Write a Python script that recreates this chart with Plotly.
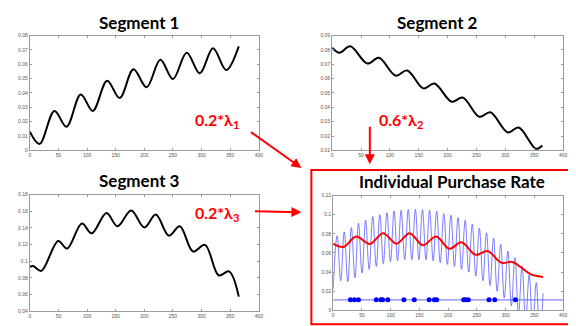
import plotly.graph_objects as go

# ---------------- data ----------------
seg1_x = [0, 17, 43, 64, 89, 110, 135, 157, 181, 204, 228, 250, 274, 297, 320, 343, 365]
seg1_y = [0.013, 0.0045, 0.0275, 0.0165, 0.039, 0.0275, 0.0485, 0.0365, 0.0565, 0.044,
          0.0632, 0.0497, 0.068, 0.0537, 0.0712, 0.056, 0.0725]

seg2_x = [0, 12.6, 31.4, 61, 81, 110, 130, 158, 177, 207, 226, 255, 274, 304, 323, 353, 364]
seg2_y = [0.0816, 0.078, 0.0825, 0.0705, 0.0745, 0.062, 0.0657, 0.0532, 0.0566, 0.0439,
          0.0468, 0.0334, 0.0366, 0.0225, 0.0259, 0.0111, 0.0134]

seg3_x = [0, 5.8, 20, 49.5, 65, 91, 108, 134, 153, 177, 200, 220, 243, 262, 285, 306, 330, 348, 365]
seg3_y = [0.0932, 0.0944, 0.0885, 0.1244, 0.1153, 0.1453, 0.1335, 0.1579, 0.142, 0.161,
          0.1405, 0.156, 0.1307, 0.142, 0.1118, 0.1197, 0.083, 0.088, 0.0577]

rate_x = [0, 18, 40, 64, 87, 110, 133, 156, 179, 202, 223, 248, 269, 292, 312, 327, 344, 355, 365]
rate_y = [0.0697, 0.0663, 0.0773, 0.0694, 0.0807, 0.0697, 0.0807, 0.068, 0.0773, 0.0643,
          0.0711, 0.0581, 0.0619, 0.0499, 0.0506, 0.0448, 0.0376, 0.0359, 0.0349]

blue_x = [0, 6.9, 13.1, 19.3, 25.5, 31.6, 37.9, 44.0, 50.2, 56.4, 62.6, 68.8, 75.0, 81.1, 87.3,
          93.5, 99.7, 105.9, 112.0, 118.2, 124.4, 130.6, 136.8, 143.0, 149.1, 155.3, 161.5,
          167.7, 173.9, 180.0, 186.2, 192.4, 198.6, 204.8, 211.0, 217.2, 223.3, 229.6, 235.7,
          241.9, 248.1, 254.3, 260.5, 266.7, 272.8, 279.0, 285.2, 291.4, 297.6, 303.8, 310.0,
          316.1, 322.4, 328.5, 334.7, 340.9, 347.1, 353.2, 359.5, 365]
blue_y = [0.022, 0.078, 0.031, 0.082, 0.030, 0.0865, 0.034, 0.091, 0.039, 0.0944, 0.043, 0.098,
          0.046, 0.100, 0.049, 0.102, 0.051, 0.1036, 0.052, 0.1046, 0.053, 0.1053, 0.053, 0.1056,
          0.053, 0.1053, 0.053, 0.1046, 0.052, 0.1035, 0.050, 0.101, 0.048, 0.0995, 0.046, 0.097,
          0.043, 0.094, 0.040, 0.090, 0.036, 0.086, 0.031, 0.081, 0.026, 0.0756, 0.020, 0.069,
          0.013, 0.062, 0.005, 0.055, -0.004, 0.0465, -0.012, 0.037, -0.020, 0.029, -0.028, 0.018]

purchase_days = [30, 37, 44, 75, 83, 86, 95, 123, 141, 167, 176, 180, 227, 230, 235, 271, 281, 317]
threshold_level = 0.011
threshold_span = [0, 400]

x_ticks = [0, 50, 100, 150, 200, 250, 300, 350, 400]
y1_ticks = [0, 0.01, 0.02, 0.03, 0.04, 0.05, 0.06, 0.07, 0.08]
y1_text = ["0", "0.01", "0.02", "0.03", "0.04", "0.05", "0.06", "0.07", "0.08"]
y2_ticks = [0.01, 0.02, 0.03, 0.04, 0.05, 0.06, 0.07, 0.08, 0.09]
y2_text = ["0.01", "0.02", "0.03", "0.04", "0.05", "0.06", "0.07", "0.08", "0.09"]
y3_ticks = [0.04, 0.06, 0.08, 0.10, 0.12, 0.14, 0.16, 0.18]
y3_text = ["0.04", "0.06", "0.08", "0.1", "0.12", "0.14", "0.16", "0.18"]
y4_ticks = [0, 0.02, 0.04, 0.06, 0.08, 0.10, 0.12]
y4_text = ["0", "0.02", "0.04", "0.06", "0.08", "0.1", "0.12"]

titles = ["Segment 1", "Segment 2", "Segment 3", "Individual Purchase Rate"]
weight_labels = ["0.2*λ<sub>1</sub>", "0.6*λ<sub>2</sub>", "0.2*λ<sub>3</sub>"]

# ---------------- layout helpers ----------------
W, H = 576, 326
def px(x):
    return x / W
def py(y):
    return 1 - y / H

fig = go.Figure()

line_black = dict(color="black", width=2, shape="spline", smoothing=1.0)
fig.add_trace(go.Scatter(x=seg1_x, y=seg1_y, mode="lines", line=line_black, xaxis="x", yaxis="y"))
fig.add_trace(go.Scatter(x=seg2_x, y=seg2_y, mode="lines", line=line_black, xaxis="x2", yaxis="y2"))
fig.add_trace(go.Scatter(x=seg3_x, y=seg3_y, mode="lines", line=line_black, xaxis="x3", yaxis="y3"))

fig.add_trace(go.Scatter(x=blue_x, y=blue_y, mode="lines",
                         line=dict(color="rgba(70,70,255,0.7)", width=1, shape="spline", smoothing=1.1),
                         xaxis="x4", yaxis="y4"))
fig.add_trace(go.Scatter(x=threshold_span, y=[threshold_level] * len(threshold_span), mode="lines",
                         line=dict(color="rgba(90,90,255,0.75)", width=1.2), xaxis="x4", yaxis="y4"))
fig.add_trace(go.Scatter(x=purchase_days, y=[threshold_level] * len(purchase_days), mode="markers",
                         marker=dict(color="#0000ff", size=5), xaxis="x4", yaxis="y4"))
fig.add_trace(go.Scatter(x=rate_x, y=rate_y, mode="lines",
                         line=dict(color="#ff0000", width=2, shape="spline", smoothing=1.0),
                         xaxis="x4", yaxis="y4"))

axis_common = dict(showline=True, linecolor="#9a9a9a", linewidth=1, mirror="ticks",
                   ticks="inside", ticklen=2, tickcolor="#9a9a9a", showgrid=False, zeroline=False,
                   tickfont=dict(size=5, color="#555555", family="Liberation Sans"))

doms = {
    1: ([21, 252], [25, 142]),
    2: ([326, 559], [25, 142]),
    3: ([21, 252], [187, 306]),
    4: ([327, 559], [188, 305]),
}
yinfo = {1: ([0, 0.08], y1_ticks, y1_text), 2: ([0.01, 0.09], y2_ticks, y2_text),
         3: ([0.04, 0.18], y3_ticks, y3_text), 4: ([0, 0.12], y4_ticks, y4_text)}

layout = {}
for i in range(1, 5):
    (x0, x1), (yt, yb) = doms[i]
    sfx = "" if i == 1 else str(i)
    yr, yv, yt_text = yinfo[i]
    layout["xaxis" + sfx] = dict(axis_common, domain=[px(x0), px(x1)], range=[0, 400],
                                 tickvals=x_ticks, ticktext=[str(v) for v in x_ticks],
                                 anchor="y" + sfx)
    layout["yaxis" + sfx] = dict(axis_common, domain=[py(yb), py(yt)], range=yr,
                                 tickvals=yv, ticktext=yt_text, anchor="x" + sfx)

fig.update_layout(**layout)

title_pos = [(131, 12), (432, 12), (132, 173), (447, 174)]
annotations = []
for t, (tx, ty) in zip(titles, title_pos):
    annotations.append(dict(text="<b>" + t + "</b>", x=px(tx), y=py(ty), xref="paper", yref="paper",
                            showarrow=False, font=dict(family="Lato", size=17, color="black"),
                            xanchor="center", yanchor="middle"))

label_pos = [(210, 112), (395, 112), (210, 206)]
for t, (tx, ty) in zip(weight_labels, label_pos):
    annotations.append(dict(text="<b>" + t + "</b>", x=px(tx), y=py(ty), xref="paper", yref="paper",
                            showarrow=False, font=dict(family="Lato", size=16, color="#ff0000"),
                            xanchor="center", yanchor="middle"))

arrows = [((243, 123), (295, 160)), ((364, 117), (364, 156)), ((247, 204), (295, 205))]
for (tx, ty), (hx, hy) in arrows:
    annotations.append(dict(text="", x=px(hx), y=py(hy), xref="paper", yref="paper",
                            ax=tx - hx, ay=ty - hy, axref="pixel", ayref="pixel",
                            showarrow=True, arrowhead=2, arrowsize=1, arrowwidth=2,
                            arrowcolor="#ff0000"))

fig.update_layout(
    width=W, height=H, margin=dict(l=0, r=0, t=0, b=0),
    paper_bgcolor="white", plot_bgcolor="white", showlegend=False,
    annotations=annotations,
    shapes=[dict(type="rect", xref="paper", yref="paper", x0=px(305), x1=px(574),
                 y0=py(319), y1=py(162), line=dict(color="#ff0000", width=2))],
)

fig.write_html("out.html")
